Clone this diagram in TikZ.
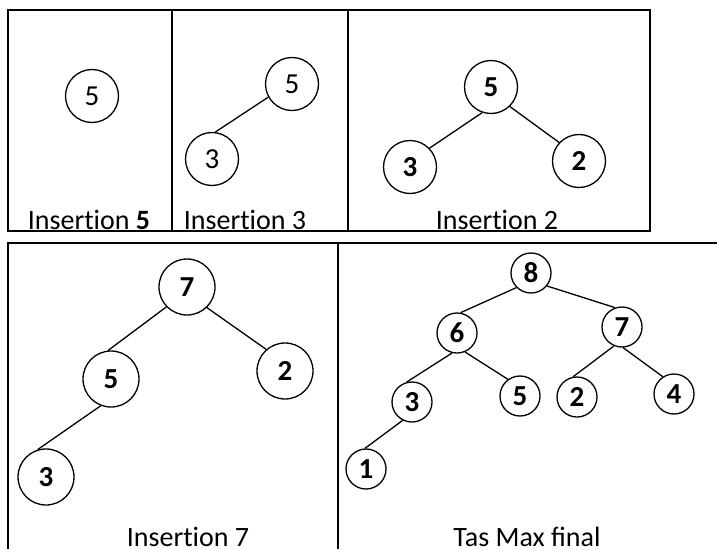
\documentclass[tikz,border=0pt]{standalone}
\usepackage{fontspec}
\setmainfont{Carlito}
\newcommand{\insword}{Insert\kern0pt ion}
\tikzset{
  key/.style={circle,draw,line width=1.3pt,inner sep=0pt,minimum size=53pt,font=\fontsize{29}{32}\selectfont},
  boldkey/.style={key,font=\fontsize{29}{32}\selectfont\bfseries},
  bigkey/.style={boldkey,minimum size=56pt},
  smallkey/.style={boldkey,minimum size=40pt},
  caption/.style={anchor=base,inner sep=0pt,font=\fontsize{28}{34}\selectfont},
  frame/.style={line width=2.2pt},
  link/.style={line width=1.3pt}
}

\begin{document}
\begin{tikzpicture}[x=1pt,y=-1pt]
    \useasboundingbox (0,0) rectangle (717,549);

    % Division points of the panels
    \def\xa{172}   % end of panel "Insertion 5"
    \def\xb{348}   % end of panel "Insertion 3"
    \def\xc{650}   % right edge of the top row
    \def\xd{338}   % divider of the bottom row

    % -- Frames of the top row --
    \draw[frame] (8,10) rectangle (\xc,231);
    \draw[frame] (\xa,10) -- (\xa,231);
    \draw[frame] (\xb,10) -- (\xb,231);

    % -- Frames of the bottom row (open at right and bottom) --
    \draw[frame] (8,549) -- (8,243) -- (717,243);
    \draw[frame] (\xd,243) -- (\xd,549);

    % -- Panel 1: insertion of 5 --
    \node[key] (pa5) at (92,96) {5};
    \node[caption] (capa) at (89,229) {\insword{} \textbf{5}};

    % -- Panel 2: insertion of 3 --
    \node[key] (pb5) at (292,84) {5};
    \node[key] (pb3) at (212,159) {3};
    \draw[link] (pb5.209) -- (pb3.83);
    \node[caption] (capb) at (245,229) {\insword{} 3};

    % -- Panel 3: insertion of 2 --
    \node[boldkey] (pc5) at (491,87) {5};
    \node[boldkey] (pc3) at (410,167) {3};
    \node[boldkey] (pc2) at (579,161) {2};
    \draw[link] (pc5.251) -- (pc3.44);
    \draw[link] (pc5.314) -- (pc2.137);
    \node[caption] (capc) at (497,229) {\insword{} 2};

    % -- Panel 4: insertion of 7 --
    \node[bigkey] (pd7) at (187,287) {7};
    \node[bigkey] (pd5) at (111,379) {5};
    \node[bigkey] (pd2) at (285,371) {2};
    \node[bigkey] (pd3) at (46,477) {3};
    \draw[link] (pd7.224) -- (pd5.96);
    \draw[link] (pd7.314) -- (pd2.131);
    \draw[link] (pd5.249) -- (pd3.107);
    \node[caption] (capd) at (188,546) {\insword{} 7};

    % -- Panel 5: final max heap --
    \node[smallkey] (pe8) at (531,273) {8};
    \node[smallkey] (pe6) at (457,333) {6};
    \node[smallkey] (pe7) at (622,327) {7};
    \node[smallkey] (pe3) at (412,402) {3};
    \node[smallkey] (pe5) at (520,396) {5};
    \node[smallkey] (pe2) at (577,397) {2};
    \node[smallkey] (pe4) at (674,394) {4};
    \node[smallkey] (pe1) at (366,469) {1};
    \foreach \a/\b in {pe8.225/pe6.80,pe8.321/pe7.110,pe6.256/pe3.105,pe6.293/pe5.126,
                       pe7.247/pe2.101,pe7.273/pe4.123,pe3.243/pe1.93}
      \draw[link] (\a) -- (\b);
    \node[caption] (cape) at (527,546) {Tas Max final};

\end{tikzpicture}
\end{document}
